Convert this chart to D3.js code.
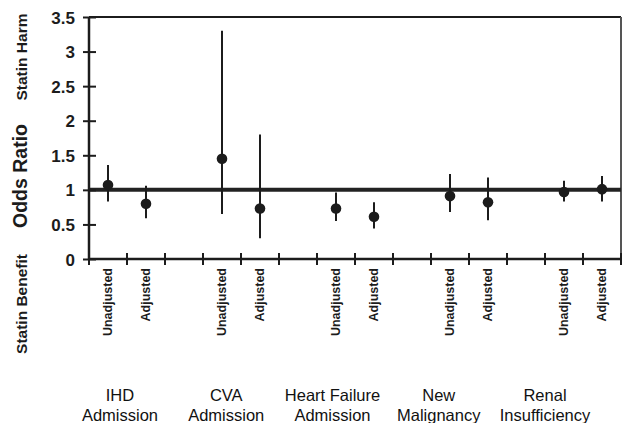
<!DOCTYPE html>
<html><head><meta charset="utf-8">
<script src="https://cdn.jsdelivr.net/npm/d3@7"></script>
<style>body{margin:0;background:#fff;} svg{display:block;font-family:"Liberation Sans",Arial,sans-serif;}</style>
</head><body>
<svg id="c" width="633" height="423"></svg>
<script>
// ---- data ----
const groups = ["IHD Admission", "CVA Admission", "Heart Failure Admission", "New Malignancy", "Renal Insufficiency"];
const groupLines = [["IHD","Admission"],["CVA","Admission"],["Heart Failure","Admission"],["New","Malignancy"],["Renal","Insufficiency"]];
const analyses = ["Unadjusted", "Adjusted"];
const oddsRatio = [1.07, 0.80, 1.45, 0.73, 0.73, 0.61, 0.91, 0.82, 0.97, 1.01];
const ciLow     = [0.83, 0.59, 0.65, 0.30, 0.55, 0.44, 0.68, 0.56, 0.83, 0.83];
const ciHigh    = [1.36, 1.06, 3.30, 1.80, 0.96, 0.82, 1.23, 1.18, 1.13, 1.20];
const yTicks = [0, 0.5, 1, 1.5, 2, 2.5, 3, 3.5];
const refValue = 1;

// ---- layout ----
const FONT = "'Liberation Sans', Arial, sans-serif";
const svg = d3.select("#c");
const m = {left: 89, right: 621, top: 17, bottom: 259};
const ink = "#1c1c1c";

const slots = [];
groups.forEach((g, gi) => {
  analyses.forEach(a => slots.push(g + "|" + a));
  if (gi < groups.length - 1) slots.push(g + "|gap");
});
const x = d3.scaleBand().domain(slots).range([m.left, m.right]).padding(0);
const y = d3.scaleLinear().domain([0, 3.5]).range([m.bottom, m.top]);

const points = [];
groups.forEach((g, gi) => analyses.forEach((a, ai) => {
  const i = gi * 2 + ai;
  points.push({key: g + "|" + a, label: a, or: oddsRatio[i], lo: ciLow[i], hi: ciHigh[i]});
}));

// frame (top + right)
svg.append("line").attr("x1", m.left).attr("x2", m.right).attr("y1", m.top).attr("y2", m.top)
  .attr("stroke", ink).attr("stroke-width", 2);
svg.append("line").attr("x1", m.right).attr("x2", m.right).attr("y1", m.top).attr("y2", m.bottom)
  .attr("stroke", "#555").attr("stroke-width", 2);

// reference line
svg.append("line").attr("x1", m.left).attr("x2", m.right).attr("y1", y(refValue)).attr("y2", y(refValue))
  .attr("stroke", "#222").attr("stroke-width", 4);

// y axis
const yAxis = svg.append("g").attr("transform", `translate(${m.left},0)`)
  .call(d3.axisLeft(y).tickValues(yTicks).tickFormat(d => String(d)).tickSize(6).tickPadding(8));
yAxis.select(".domain").attr("stroke", ink).attr("stroke-width", 2.5).attr("d", `M0,${m.top}V${m.bottom}`);
yAxis.selectAll(".tick line").attr("x1", 7).attr("x2", -6).attr("stroke", ink).attr("stroke-width", 2);
yAxis.selectAll(".tick text").attr("font-size", 17).attr("font-weight", "bold").attr("fill", ink)
  .attr("font-family", FONT).attr("dy", "0.36em");

// x axis: ticks at band boundaries
const boundaries = slots.map(s => x(s)).concat([x(slots[slots.length - 1]) + x.bandwidth()]);
svg.append("line").attr("x1", m.left).attr("x2", m.right).attr("y1", m.bottom).attr("y2", m.bottom)
  .attr("stroke", ink).attr("stroke-width", 2.5);
svg.selectAll(".xt").data(boundaries).join("line").attr("class", "xt")
  .attr("x1", d => d).attr("x2", d => d).attr("y1", m.bottom - 6).attr("y2", m.bottom + 6)
  .attr("stroke", ink).attr("stroke-width", 2);

// sub labels
svg.selectAll(".sub").data(points).join("text").attr("class", "sub")
  .attr("transform", d => `translate(${x(d.key) + x.bandwidth() / 2 + 4},${m.bottom + 9}) rotate(-90)`)
  .attr("text-anchor", "end").attr("font-size", 12.5).attr("font-weight", "bold").attr("fill", ink)
  .attr("font-family", FONT).text(d => d.label);

// error bars
svg.selectAll(".ci").data(points).join("line").attr("class", "ci")
  .attr("x1", d => x(d.key) + x.bandwidth() / 2).attr("x2", d => x(d.key) + x.bandwidth() / 2)
  .attr("y1", d => y(d.lo)).attr("y2", d => y(d.hi)).attr("stroke", ink).attr("stroke-width", 2);
svg.selectAll(".pt").data(points).join("circle").attr("class", "pt")
  .attr("cx", d => x(d.key) + x.bandwidth() / 2).attr("cy", d => y(d.or)).attr("r", 5.3).attr("fill", ink);

// group labels
const gx = d3.scalePoint().domain(groups).range([120, 545]);
groups.forEach((g, gi) => {
  const t = svg.append("text").attr("text-anchor", "middle").attr("font-size", 16.5).attr("fill", "#111")
    .attr("font-family", FONT);
  groupLines[gi].forEach((ln, li) => t.append("tspan").attr("x", gx(g)).attr("y", 401 + li * 19.5).text(ln));
});

// y titles
function vtext(txt, cx, cy, size) {
  svg.append("text").attr("transform", `translate(${cx},${cy}) rotate(-90)`)
    .attr("text-anchor", "middle").attr("font-size", size).attr("font-weight", "bold").attr("fill", ink)
    .attr("font-family", FONT).text(txt);
}
vtext("Odds Ratio", 27, 176, 19.5);
vtext("Statin Harm", 27, 57, 15.5);
vtext("Statin Benefit", 27, 304, 15.5);
</script>
</body></html>
